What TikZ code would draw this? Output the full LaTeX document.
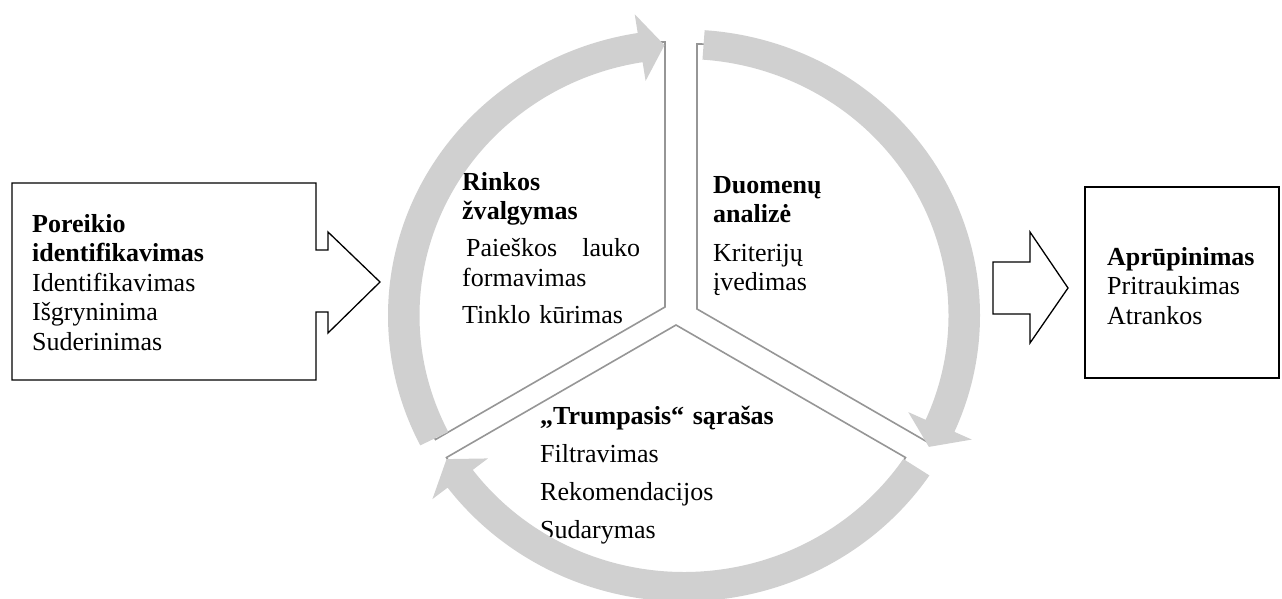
\documentclass[tikz,border=0pt]{standalone}
\usepackage{fontspec}
\setmainfont{Liberation Serif}
\usetikzlibrary{calc}
\definecolor{bandgray}{RGB}{208,208,208}
\definecolor{edgegray}{RGB}{150,150,150}
% circular arrow segment: #1 tail angle, #2 head base angle, #3 tip angle
\newcommand\cyclearrow[3]{%
  \fill[bandgray] ($(C)+(#1:296pt and 286pt)$)
    arc[start angle=#1, end angle=#2, x radius=296pt, y radius=286pt]
    -- ($(C)+(#2:315pt and 305pt)$)
    -- ($(C)+(#3:280pt and 271pt)$)
    -- ($(C)+(#2:245.5pt and 237.5pt)$)
    -- ($(C)+(#2:264.5pt and 256.5pt)$)
    arc[start angle=#2, end angle=#1, x radius=264.5pt, y radius=256.5pt]
    -- cycle;}
\begin{document}
\begin{tikzpicture}[x=1pt,y=1pt,
  txt/.style={anchor=base west, inner sep=0pt, text width=300pt, align=left,
    font=\fontsize{26}{29.5}\selectfont},
  boxline/.style={draw=black, line width=1.3pt, line join=miter},
  wedge/.style={draw=edgegray, line width=1.6pt, fill=white}]
\useasboundingbox (0,0) rectangle (1282,-599);

% segmented disc
\coordinate (C) at (684,-315.5);
\coordinate (wl) at (665,-307);
\coordinate (wr) at (697,-309);
\coordinate (wb) at (676,-325);
\draw[wedge] (wl) -- ++(90:265pt) arc[start angle=90, end angle=210, radius=265pt] -- cycle;
\draw[wedge] (wr) -- ++(90:265pt) arc[start angle=90, end angle=-30, radius=265pt] -- cycle;
\draw[wedge] (wb) -- ++(210:265pt) arc[start angle=210, end angle=330, radius=265pt] -- cycle;

% segment texts
\node[txt] (market) at (462,-190) {\textbf{Rinkos}\\\textbf{žvalgymas}\\[7.5pt]
  \makebox[178pt][l]{\hspace{4pt}Paieškos\hfill lauko}\\formavimas\\[7.5pt]Tinklo kūrimas};
\node[txt] (data) at (713,-193) {\textbf{Duomenų}\\\textbf{analizė}\\[9pt]Kriterijų\\įvedimas};
\node[txt] (short) at (540,-424) {\textbf{„Trumpasis“ sąrašas}\\[8.5pt]Filtravimas\\[8.5pt]Rekomendacijos\\[8.5pt]Sudarymas};

% cycle arrows
\cyclearrow{207}{99}{94}
\cyclearrow{86}{-24}{-29}
\cyclearrow{-34}{-143}{-148}

% left callout box
\draw[boxline] (12,-183) -- (316,-183) -- (316,-250) -- (328,-250) -- (328,-232)
  -- (380,-282) -- (328,-333) -- (328,-312) -- (316,-312) -- (316,-380)
  -- (12,-380) -- cycle;
\node[txt] (need) at (32,-232) {\textbf{Poreikio}\\\textbf{identifikavimas}\\Identifikavimas\\Išgryninima\\Suderinimas};

% right block arrow and box
\draw[boxline] (993,-262) -- (1030,-262) -- (1030,-232) -- (1068,-288)
  -- (1030,-343) -- (1030,-314) -- (993,-314) -- cycle;
\draw[boxline] (1085,-187) rectangle (1279,-378);
\node[txt] (supply) at (1107,-265) {\textbf{Aprūpinimas}\\Pritraukimas\\Atrankos};
\end{tikzpicture}
\end{document}
